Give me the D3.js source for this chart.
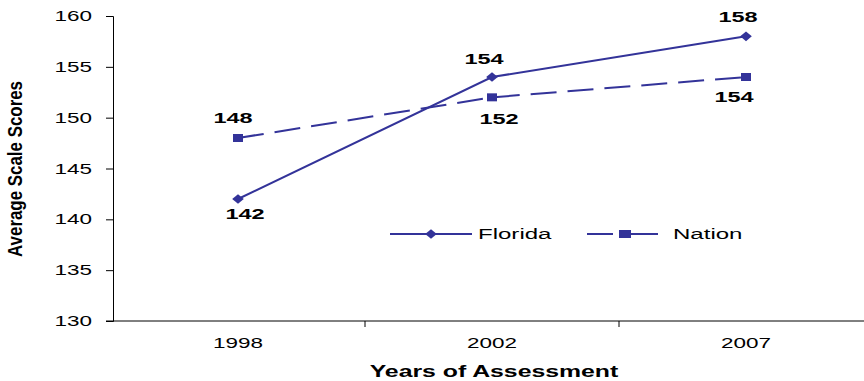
<!DOCTYPE html>
<html>
<head>
<meta charset="utf-8">
<script src="https://cdn.jsdelivr.net/npm/d3@7"></script>
<style>
  html, body { margin: 0; padding: 0; background: #fff; }
  svg { display: block; font-family: "Liberation Sans", Arial, sans-serif; }
</style>
</head>
<body>
<svg id="chart" width="864" height="381"></svg>
<script>
// Average scale scores by assessment year
const years = ["1998", "2002", "2007"];
const florida = [142, 154, 158];
const nation = [148, 152, 154];
const yTicks = [130, 135, 140, 145, 150, 155, 160];
const seriesNames = ["Florida", "Nation"];

const color = "#333399";
const dash = "26,11";
const wide = 1.55; // horizontal widening applied to all text
const svg = d3.select("#chart");

// widen a text selection horizontally while keeping its anchor
function widen(sel, k = wide) {
  sel.each(function () {
    const w = this.getComputedTextLength();
    d3.select(this).attr("textLength", w * k).attr("lengthAdjust", "spacingAndGlyphs");
  });
  return sel;
}

const x = d3.scaleBand().domain(years).range([111, 873]);
const y = d3.scaleLinear().domain([130, 160]).range([321, 16]);

// y axis
const yAxis = svg.append("g")
  .attr("transform", "translate(113,0)")
  .call(d3.axisLeft(y).tickValues(yTicks).tickSize(7).tickPadding(14));
yAxis.select(".domain").attr("stroke", "#000").attr("stroke-width", 1);
yAxis.selectAll(".tick line").attr("stroke", "#000");
widen(yAxis.selectAll(".tick text")
  .attr("font-size", 14.5).attr("fill", "#000")
  .attr("font-family", "Liberation Sans, Arial, sans-serif"));

// x axis with ticks between categories
const xAxis = svg.append("g").attr("transform", "translate(0,321)");
xAxis.append("line").attr("x1", 106).attr("x2", 864).attr("stroke", "#000");
const bounds = years.map(d => x(d)).concat([x.range()[1]]);
xAxis.selectAll("line.tk").data(bounds.slice(1)).join("line")
  .attr("class", "tk")
  .attr("x1", d => d).attr("x2", d => d)
  .attr("y1", 0).attr("y2", 6).attr("stroke", "#000");
widen(xAxis.selectAll("text").data(years).join("text")
  .attr("x", d => x(d) + x.bandwidth() / 2)
  .attr("y", 27)
  .attr("text-anchor", "middle")
  .attr("font-size", 14.5)
  .text(d => d));

// axis titles
widen(svg.append("text")
  .attr("x", 494).attr("y", 377)
  .attr("text-anchor", "middle")
  .attr("font-size", 16).attr("font-weight", "bold")
  .text("Years of Assessment"));

svg.append("text")
  .attr("transform", "translate(22,169) rotate(-90) scale(1,1.5)")
  .attr("text-anchor", "middle")
  .attr("font-size", 13).attr("font-weight", "bold")
  .attr("textLength", 176).attr("lengthAdjust", "spacingAndGlyphs")
  .text("Average Scale Scores");

const cx = d => x(d) + x.bandwidth() / 2;
const line = d3.line().x(d => cx(d.year)).y(d => y(d.value));
const floridaPts = years.map((yr, i) => ({ year: yr, value: florida[i] }));
const nationPts = years.map((yr, i) => ({ year: yr, value: nation[i] }));

// Nation (dashed, square markers)
svg.append("path").datum(nationPts)
  .attr("d", line).attr("fill", "none")
  .attr("stroke", color).attr("stroke-width", 2)
  .attr("stroke-dasharray", dash);
svg.selectAll("rect.nation").data(nationPts).join("rect")
  .attr("class", "nation")
  .attr("x", d => cx(d.year) - 5).attr("y", d => y(d.value) - 4)
  .attr("width", 10).attr("height", 8).attr("fill", color);

// Florida (solid, diamond markers)
svg.append("path").datum(floridaPts)
  .attr("d", line).attr("fill", "none")
  .attr("stroke", color).attr("stroke-width", 2);
const diamond = d3.symbol().type(d3.symbolDiamond2).size(60);
svg.selectAll("path.florida").data(floridaPts).join("path")
  .attr("class", "florida")
  .attr("d", diamond)
  .attr("transform", d => `translate(${cx(d.year)},${y(d.value)}) scale(1.2,1)`)
  .attr("fill", color);

// value labels
const floridaOffsets = [[7, 20], [-8, -13], [-8, -14]];
const nationOffsets = [[-5, -15], [7, 27], [-12, 25]];
function addLabels(pts, offs) {
  widen(svg.append("g").selectAll("text").data(pts).join("text")
    .attr("x", (d, i) => cx(d.year) + offs[i][0])
    .attr("y", (d, i) => y(d.value) + offs[i][1])
    .attr("text-anchor", "middle")
    .attr("font-size", 14.5).attr("font-weight", "bold")
    .text(d => d.value), 1.62);
}
addLabels(floridaPts, floridaOffsets);
addLabels(nationPts, nationOffsets);

// legend
const legend = svg.append("g").attr("transform", "translate(0,234)");
legend.append("line").attr("x1", 390).attr("x2", 472)
  .attr("stroke", color).attr("stroke-width", 2);
legend.append("path").attr("d", diamond)
  .attr("transform", "translate(431,0) scale(1.2,1)").attr("fill", color);
widen(legend.append("text").attr("x", 478).attr("y", 5)
  .attr("font-size", 15.5).text(seriesNames[0]));
// dashed sample: two dashes on either side of the square marker
legend.selectAll("line.nd").data([[587, 613], [631, 658]]).join("line")
  .attr("class", "nd")
  .attr("x1", d => d[0]).attr("x2", d => d[1])
  .attr("stroke", color).attr("stroke-width", 2);
legend.append("rect").attr("x", 619).attr("y", -4)
  .attr("width", 12).attr("height", 8).attr("fill", color);
widen(legend.append("text").attr("x", 673).attr("y", 5)
  .attr("font-size", 15.5).text(seriesNames[1]));
</script>
</body>
</html>
